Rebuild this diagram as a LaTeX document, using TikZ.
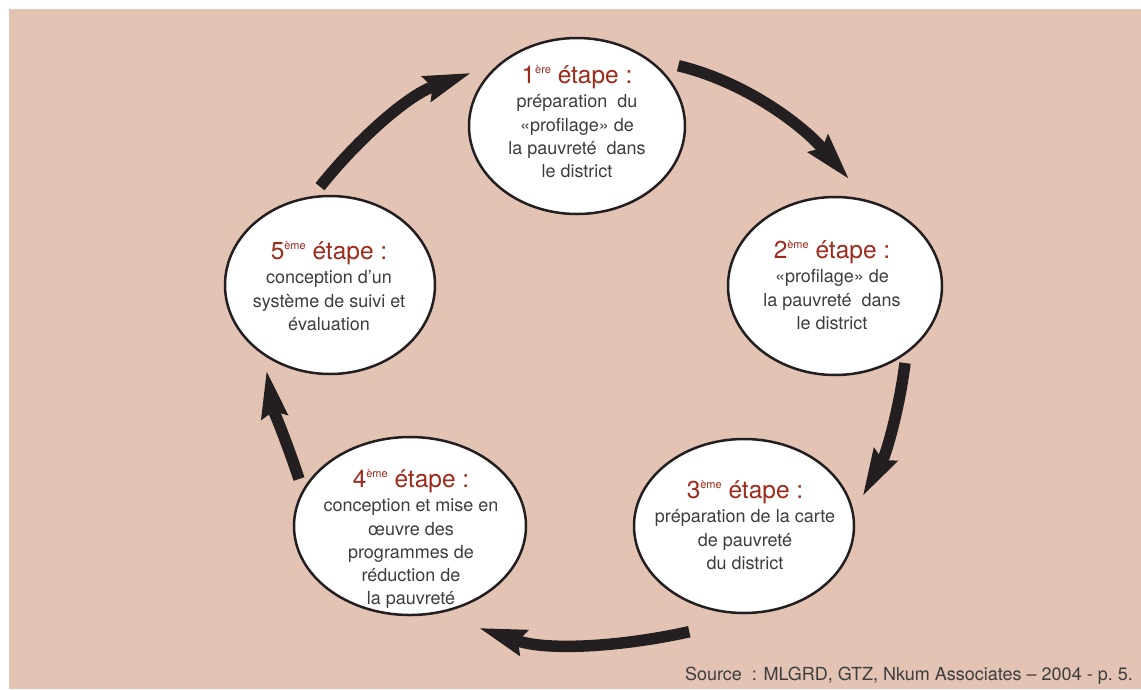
\documentclass[tikz,border=0pt]{standalone}
\usepackage{fontspec}
\setmainfont{TeX Gyre Heros}
\usetikzlibrary{arrows.meta,shapes.geometric}
\definecolor{bgpink}{HTML}{E3C4B4}
\definecolor{ink}{HTML}{231F20}
\definecolor{stepred}{HTML}{9E2A1B}
\definecolor{bodygray}{HTML}{3D3D3D}
% step heading: number, raised ordinal suffix, "étape :"
\newcommand{\stepno}[2]{{\color{stepred}\fontsize{24.5}{24.5}\selectfont #1\raisebox{10pt}{\fontsize{11}{11}\selectfont #2} étape :}}
\begin{document}
\begin{tikzpicture}[x=1pt,y=-1pt,
  stage/.style={ellipse, draw=ink, line width=2.5pt, fill=white, inner sep=0pt},
  stagetext/.style={anchor=north, align=center, text=bodygray,
    font=\fontsize{18}{23.3}\selectfont, inner sep=0pt},
  looparrow/.style={draw=ink, line width=11.5pt,
    -{Stealth[length=47pt,width=28pt,inset=7pt,line width=0pt]}}]
% page and panel
\useasboundingbox (0,0) rectangle (1141,689);
\fill[white] (0,0) rectangle (1141,689);
\fill[bgpink] (9,9) rectangle (1141,689);

% the five stages
\node[stage, minimum width=216pt, minimum height=176pt] (s1) at (577,126) {};
\node[stage, minimum width=214pt, minimum height=178pt] (s2) at (835,286) {};
\node[stage, minimum width=220pt, minimum height=174pt] (s3) at (744,526) {};
\node[stage, minimum width=232pt, minimum height=178pt] (s4) at (410,526) {};
\node[stage, minimum width=210pt, minimum height=178pt] (s5) at (330,285) {};

\node[stagetext] (t1) at (577,65) {\stepno{1}{ère}\\[1.2pt]
  préparation~ du\\«profilage» de\\la pauvreté~ dans\\le district};
\node[stagetext] (t2) at (832,240) {\stepno{2}{ème}\\[1.2pt]
  «profilage» de\\la pauvreté~ dans\\le district};
\node[stagetext] (t3) at (745,480) {\stepno{3}{ème}\\[1.2pt]
  préparation de la carte\\de pauvreté\\du district};
\node[stagetext] (t4) at (411,469) {\stepno{4}{ème}\\[1.2pt]
  conception et mise en\\œuvre des\\programmes de\\réduction de\\la pauvreté};
\node[stagetext] (t5) at (329,241) {\stepno{5}{ème}\\[1.2pt]
  conception d’un\\système de suivi et\\évaluation};

% ends of the cycle arrows
\coordinate (a1s) at (678.3,65.7);  \coordinate (a1e) at (848.3,178.3);
\coordinate (a2s) at (905,363);     \coordinate (a2e) at (863.3,495);
\coordinate (a3s) at (689.3,631.7); \coordinate (a3e) at (480,628.3);
\coordinate (a4s) at (299,479);     \coordinate (a4e) at (266.7,371.7);
\coordinate (a5s) at (320,186.7);   \coordinate (a5e) at (470,73.3);

\draw[looparrow] (a1s) .. controls (745.9,81.9) and (802.7,125.8) .. (a1e);
\draw[looparrow] (a2s) .. controls (899.3,409.3) and (885.9,454.2) .. (a2e);
\draw[looparrow] (a3s) .. controls (619.9,647.1) and (547.5,650.7) .. (a3e);
\draw[looparrow] (a4s) .. controls (287.2,443.4) and (273.1,408.6) .. (a4e);
\draw[looparrow] (a5s) .. controls (360.3,136.3) and (408.8,95.4) .. (a5e);

% source line
\node[anchor=base east, text=bodygray, font=\fontsize{18}{18}\selectfont,
  inner sep=0pt] (src) at (1133,680)
  {Source~~: MLGRD, GTZ, Nkum Associates – 2004 - p.~5.};
\end{tikzpicture}
\end{document}
